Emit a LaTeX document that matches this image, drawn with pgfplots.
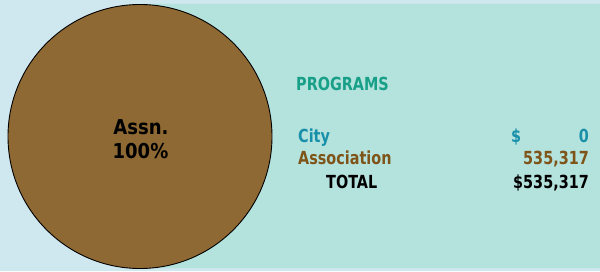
\documentclass[border=0pt]{standalone}
\usepackage{pgfplots}
\pgfplotsset{compat=1.18}
\usepackage{fontspec}
\newfontfamily\lblfont{DejaVu Sans}[FakeStretch=0.8]
\newfontfamily\piefont{DejaVu Sans}[FakeStretch=0.88]
\definecolor{bgblue}{HTML}{CFE7EE}
\definecolor{panel}{HTML}{B4E2DD}
\definecolor{piebrown}{HTML}{8F6934}
\definecolor{titleteal}{HTML}{179F87}
\definecolor{cityblue}{HTML}{1890AA}
\definecolor{assnbrown}{HTML}{7E5418}
\begin{document}
\begin{tikzpicture}
\begin{axis}[
  width=600pt, height=271pt, scale only axis,
  xmin=0, xmax=600, ymin=0, ymax=271,
  hide axis, clip=false, set layers,
]
\addplot[fill=bgblue, draw=none] coordinates {(0,0) (600,0) (600,271) (0,271)} \closedcycle;
\addplot[fill=panel, draw=none] coordinates {(143,3) (600,3) (600,267) (143,267)} \closedcycle;
% single slice: Association 100%
\addplot[only marks, mark=*, mark size=132pt,
  mark options={fill=piebrown, draw=black, line width=0.9pt}] coordinates {(140,134.5)};
\begin{pgfonlayer}{axis foreground}
\node[anchor=base, inner sep=0pt, font=\piefont\bfseries\fontsize{20.5}{20.5}\selectfont] at (axis cs:141,137) {Assn.};
\node[anchor=base, inner sep=0pt, font=\piefont\bfseries\fontsize{20.5}{20.5}\selectfont] at (axis cs:140.5,113) {100\%};
\end{pgfonlayer}
\begin{scope}[every node/.style={font=\lblfont\bfseries\fontsize{18}{18}\selectfont, inner sep=0pt}]
\node[anchor=base west, text=titleteal] at (axis cs:296,180.3) {PROGRAMS};
\node[anchor=base west, text=cityblue] at (axis cs:298,129) {City};
\node[anchor=base west, text=cityblue] at (axis cs:511,129) {\$};
\node[anchor=base east, text=cityblue] at (axis cs:589,129) {0};
\node[anchor=base west, text=assnbrown] at (axis cs:298,106.3) {Association};
\node[anchor=base east, text=assnbrown] at (axis cs:589,106.3) {535,317};
\node[anchor=base west, text=black] at (axis cs:326,82.3) {TOTAL};
\node[anchor=base east, text=black] at (axis cs:589,82.3) {\$535,317};
\end{scope}
\end{axis}
\end{tikzpicture}
\end{document}
